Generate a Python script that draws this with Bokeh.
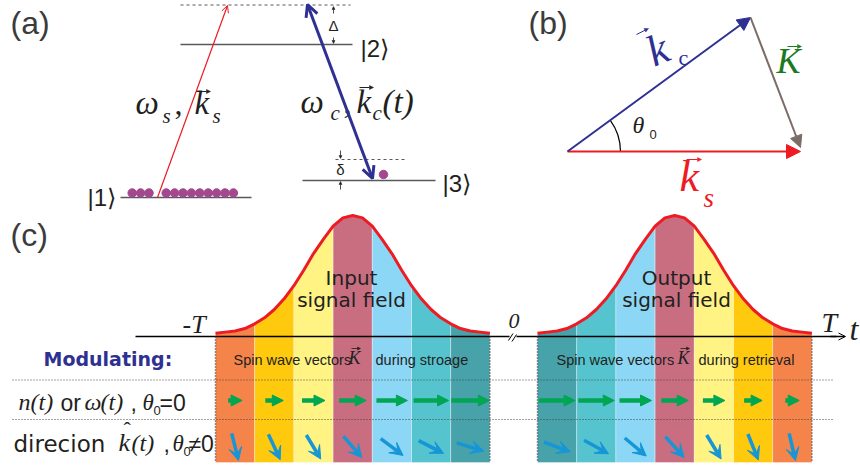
import math
from bokeh.plotting import figure
from bokeh.models import Range1d, Arrow, NormalHead, VeeHead, OpenHead, ColumnDataSource
from bokeh.core.properties import value
from bokeh.embed import file_html
from bokeh.resources import INLINE

# ---------------- data ----------------
# (c) signal pulse envelope, normalised amplitude at quarter-stripe steps
pulse_amp = [0.01, 0.02, 0.03, 0.05, 0.09, 0.14, 0.21, 0.30, 0.41, 0.54, 0.68, 0.80, 0.91, 0.98,
             1.00, 0.98, 0.91, 0.80, 0.68, 0.54, 0.41, 0.30, 0.21, 0.14, 0.09, 0.05, 0.03, 0.02, 0.01]
storage_colors = ["#F4844A", "#FFC90E", "#FFF384", "#C86E80", "#8BD7F5", "#56C4CF", "#47A2AA"]
retrieval_colors = ["#47A2AA", "#56C4CF", "#8BD7F5", "#C86E80", "#FFF384", "#FFC90E", "#F4844A"]
storage_green_len = [14, 18, 23, 27, 31, 35, 38]
retrieval_green_len = [36, 36, 32, 27, 22, 18, 14]
storage_blue_angle = [76, 65, 59, 49, 37, 27, 17]
retrieval_blue_angle = [20, 29, 40, 48, 59, 68, 77]
n_atoms_left, n_atoms_right = 3, 9

# ---------------- figure ----------------
p = figure(width=860, height=465, x_range=Range1d(0, 860), y_range=Range1d(465, 0),
           output_backend="svg", toolbar_location=None, x_axis_type=None, y_axis_type=None,
           min_border=0)
p.grid.visible = False
p.outline_line_color = None

SANS = "Liberation Sans"
DJ = "DejaVu Sans"
SERIF = "Liberation Serif"
DARK = "#231F20"
BLUE = "#2E3192"
RED = "#ED1C24"
LEV = "#58595B"


def T(x, y, s, size, font=SANS, style="normal", color=DARK, align="left", angle=0.0):
    # y is the alphabetic baseline; drawn with a middle anchor
    p.text(x=[x], y=[y - 0.34 * size], text=[s], text_font=value(font), text_font_size=f"{size}px",
           text_font_style=style, text_color=color, text_align=align, text_baseline="middle", angle=angle)


def vec(x0, y0, x1, y1, color=DARK, head=4, lw=1.0):
    p.add_layout(Arrow(end=NormalHead(size=head, fill_color=color, line_color=color, line_width=0.5),
                       x_start=x0, y_start=y0, x_end=x1, y_end=y1, line_color=color, line_width=lw))


# ================= panel (a) =================
T(10, 33, "(a)", 32, color="#3B3B3B")
p.segment(x0=[180, 120, 302], y0=[44, 197, 180], x1=[352, 251, 435], y1=[44, 197, 180],
          line_color=LEV, line_width=1.6)
p.segment(x0=[180, 335], y0=[4.5, 159], x1=[350, 405], y1=[4.5, 159],
          line_color=LEV, line_width=1.2, line_dash="3 3")
# atoms
ax = [131.7 + 8.4 * i for i in range(n_atoms_left)] + [165.7 + 8.4 * i for i in range(n_atoms_right)]
p.scatter(x=ax, y=[192.5] * len(ax), size=8.5, color="#A3488E")
p.scatter(x=[383], y=[174], size=8.5, color="#A3488E")
# laser arrows
p.add_layout(Arrow(end=OpenHead(size=7, line_color=RED, line_width=1), x_start=157, y_start=197,
                   x_end=227, y_end=5, line_color=RED, line_width=1.2))
p.add_layout(Arrow(start=OpenHead(size=12, line_color=BLUE, line_width=3),
                   end=OpenHead(size=12, line_color=BLUE, line_width=3),
                   x_start=307, y_start=4, x_end=372, y_end=178, line_color=BLUE, line_width=3))
# detunings
p.text(x=[333, 340], y=[25, 169], text=["Δ", "δ"], text_font=value(SANS), text_font_size="15px",
       text_color=DARK, text_align="center", text_baseline="middle")
vec(333, 13, 333, 6, head=3, lw=0.8)
vec(333, 37, 333, 43, head=3, lw=0.8)
vec(340, 150, 340, 158, head=3, lw=0.8)
vec(340, 189, 340, 181, head=3, lw=0.8)
# state labels
T(87, 205, "|1⟩", 24)
T(360, 56, "|2⟩", 24)
T(442, 191, "|3⟩", 24)
# field labels
T(135, 114, "ω", 33, SERIF, "italic")
T(162, 123, "s", 21, SERIF, "italic")
T(174, 114, ",", 32, SERIF)
T(194, 114, "k", 33, SERIF, "italic")
vec(196, 91, 210, 91)
T(212, 123, "s", 21, SERIF, "italic")
T(300, 113, "ω", 33, SERIF, "italic")
T(330, 120, "c", 21, SERIF, "italic")
T(343, 113, ",", 32, SERIF)
T(356, 113, "k", 33, SERIF, "italic")
vec(359, 87, 373, 87)
T(372, 120, "c", 21, SERIF, "italic")
T(382, 113, "(t)", 33, SERIF, "italic")

# ================= panel (b) =================
T(528, 33, "(b)", 32, color="#3B3B3B")
p.arc(x=[567], y=[151], radius=53, start_angle=0, end_angle=0.63, line_color="black",
      line_width=1.2, direction="anticlock")
p.add_layout(Arrow(end=NormalHead(size=14, fill_color=RED, line_color=RED), x_start=567, y_start=151,
                   x_end=800, y_end=151, line_color=RED, line_width=2.2))
p.add_layout(Arrow(end=NormalHead(size=13, fill_color=BLUE, line_color=BLUE), x_start=567, y_start=151,
                   x_end=750, y_end=17, line_color=BLUE, line_width=2))
GR = "#7B6C66"
p.add_layout(Arrow(end=NormalHead(size=12, fill_color=GR, line_color=GR), x_start=750, y_start=17,
                   x_end=800, y_end=147, line_color=GR, line_width=2))
T(632, 133, "θ", 24, SERIF, "italic")
T(649, 138, "0", 13)
GREEN_T = "#1B7A1F"
T(776, 73, "K", 36, SERIF, "italic", color=GREEN_T)
vec(787, 46, 801, 46, color=GREEN_T)
T(648, 68, "k", 44, SERIF, "italic", color=BLUE, angle=0.4)
vec(636, 34, 648, 28, color=BLUE)
T(678, 64, "c", 22, SERIF, color=BLUE)
T(679, 191, "k", 44, SERIF, "italic", color=RED)
vec(686, 159, 701, 159, color=RED)
T(703, 207, "s", 27, SERIF, "italic", color=RED)

# ================= panel (c) =================
T(10, 245, "(c)", 32, color="#3B3B3B")
W = 39.2
Y0 = 336
AMP = 121
BOT = 462
blocks = [(215, storage_colors, storage_green_len, storage_blue_angle),
          (537, retrieval_colors, retrieval_green_len, retrieval_blue_angle)]
for x0, cols, glen, bang in blocks:
    cx = [x0 + 0.25 * k * W for k in range(len(pulse_amp))]
    cy = [Y0 - 2 - (AMP - 2) * a for a in pulse_amp]
    xs, ys = [], []
    for i in range(7):
        seg_x = cx[4 * i:4 * i + 5]
        seg_y = cy[4 * i:4 * i + 5]
        xs.append(seg_x + [seg_x[-1], seg_x[0]])
        ys.append(seg_y + [BOT, BOT])
    p.patches(xs=xs, ys=ys, fill_color=cols, line_color="white", line_alpha=0.35, line_width=1)
    p.line(x=cx, y=cy, line_color=RED, line_width=3)

# time axis
p.segment(x0=[135, 516], y0=[Y0, Y0], x1=[509, 836], y1=[Y0, Y0], line_color="black", line_width=1.3)
p.add_layout(Arrow(end=OpenHead(size=7, line_color="black", line_width=1), x_start=830, y_start=Y0,
                   x_end=845, y_end=Y0, line_color="black", line_width=1.3))
p.segment(x0=[508, 511.5], y0=[340, 341], x1=[512.5, 516], y1=[333, 334], line_color="black", line_width=1)
T(182, 333, "-T", 26, SERIF, "italic")
T(508, 328, "0", 22, SERIF, "italic")
T(821, 332, "T", 28, SERIF, "italic")
T(849, 339, "t", 32, SERIF, "italic")

# edges of the stripe blocks
p.segment(x0=[215, 215 + 7 * W, 537, 537 + 7 * W], y0=[Y0] * 4, x1=[215, 215 + 7 * W, 537, 537 + 7 * W],
          y1=[BOT] * 4, line_color="#333333", line_width=1.5, line_dash="1 2")
# row separators
p.segment(x0=[12, 12], y0=[379.5, 419], x1=[833, 833], y1=[379.5, 419], line_color="#444444",
          line_width=1, line_dash="1 2")

# arrows in rows
GREEN = "#00A651"
CYAN = "#1596D6"
for x0, cols, glen, bang in blocks:
    xc = [x0 + (i + 0.5) * W for i in range(7)]
    gsrc = ColumnDataSource(dict(xs=[c - L / 2 for c, L in zip(xc, glen)], xe=[c + L / 2 for c, L in zip(xc, glen)],
                                 y=[400] * 7))
    p.add_layout(Arrow(end=NormalHead(size=11, fill_color=GREEN, line_color=GREEN), source=gsrc,
                       x_start="xs", y_start="y", x_end="xe", y_end="y", line_color=GREEN, line_width=4.5))
    dx = [14 * math.cos(math.radians(a)) for a in bang]
    dy = [14 * math.sin(math.radians(a)) for a in bang]
    bsrc = ColumnDataSource(dict(xs=[c - d for c, d in zip(xc, dx)], xe=[c + d for c, d in zip(xc, dx)],
                                 ys=[446.5 - d for d in dy], ye=[446.5 + d for d in dy]))
    p.add_layout(Arrow(end=VeeHead(size=13, fill_color=CYAN, line_color=CYAN), source=bsrc,
                       x_start="xs", y_start="ys", x_end="xe", y_end="ye", line_color=CYAN, line_width=3.5))

# pulse labels
T(351, 284, "Input", 20, DJ, align="center")
T(351, 306, "signal field", 20, DJ, align="center")
T(676, 284, "Output", 20, DJ, align="center")
T(676, 306, "signal field", 20, DJ, align="center")

# spin wave labels
for xa, xk, xb, tail in [(233, 348, 375, "during stroage"), (556, 677, 698, "during retrieval")]:
    T(xa, 364, "Spin wave vectors", 14.5)
    T(xk, 364, "K", 18, SERIF, "italic")
    vec(xk + 3, 348, xk + 12, 348, head=3, lw=0.8)
    T(xb, 364, tail, 14.5)

# left column labels
T(43, 365, "Modulating:", 19, DJ, "bold", color=BLUE)
T(18, 410, "n", 24, SERIF, "italic")
T(30, 410, "(t)", 24, SERIF, "italic")
T(60, 410, "or", 23)
T(84, 410, "ω", 24, SERIF, "italic")
T(100, 410, "(t)", 24, SERIF, "italic")
T(130, 410, ",", 23)
T(142, 410, "θ", 23, SERIF, "italic")
T(153, 414, "0", 13)
T(159, 410, "=0", 23)

T(13, 451, "direcion", 23, DJ)
T(118, 451, "k", 26, SERIF, "italic")
T(123, 436, "ˆ", 22, SERIF)
T(131, 451, "(t)", 24, SERIF, "italic")
T(163, 451, ",", 23)
T(172, 451, "θ", 23, SERIF, "italic")
T(183, 455, "0", 13)
T(188, 451, "≠0", 23)

open("out.html", "w").write(file_html(p, INLINE))
